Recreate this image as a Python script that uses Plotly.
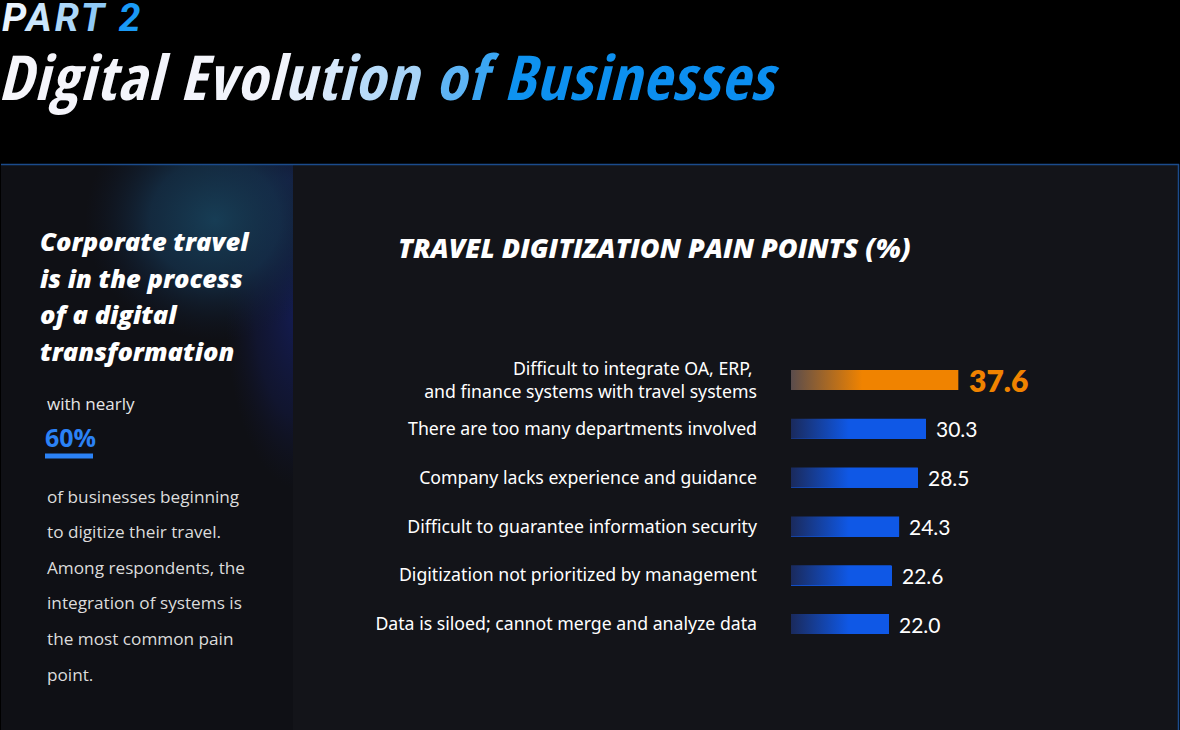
import base64
import plotly.graph_objects as go

# ---------------- data ----------------
categories = [
    "Difficult to integrate OA, ERP, <br>and finance systems with travel systems",
    "There are too many departments involved",
    "Company lacks experience and guidance",
    "Difficult to guarantee information security",
    "Digitization not prioritized by management",
    "Data is siloed; cannot merge and analyze data",
]
values = [37.6, 30.3, 28.5, 24.3, 22.6, 22.0]
value_labels = ["37.6", "30.3", "28.5", "24.3", "22.6", "22.0"]

W, H = 1180, 730
BLUE = "#0f58e6"
BLUE_DARK = "#1a2a5c"
ORANGE = "#f08300"
ORANGE_DARK = "#5a4c4c"
HEAD_FONT = "Open Sans Condensed, Roboto"


def py(p):
    return 1 - p / H


def px(p):
    return p / W


def hex2rgb(h):
    h = h.lstrip("#")
    return tuple(int(h[i:i + 2], 16) for i in (0, 2, 4))


def grad_text(text, stops, spacing=0):
    n = max(len(text) - 1, 1)
    out = []
    for i, ch in enumerate(text):
        t = i / n
        col = stops[-1][1]
        for k in range(len(stops) - 1):
            t0, c0 = stops[k]
            t1, c1 = stops[k + 1]
            if t0 <= t <= t1:
                f = 0 if t1 == t0 else (t - t0) / (t1 - t0)
                a, b = hex2rgb(c0), hex2rgb(c1)
                col = "#%02x%02x%02x" % tuple(int(a[j] + (b[j] - a[j]) * f) for j in range(3))
                break
        if ch == " ":
            out.append('<span style="letter-spacing:%.1fpx"> </span>' % spacing)
        else:
            out.append('<span style="color:%s;letter-spacing:%.1fpx">%s</span>' % (col, spacing, ch))
    return "".join(out)


# ---------------- background (svg) ----------------
svg = f"""<svg xmlns="http://www.w3.org/2000/svg" width="{W}" height="{H}" viewBox="0 0 {W} {H}">
<defs>
<radialGradient id="g1" cx="0.5" cy="0.5" r="0.5">
<stop offset="0" stop-color="#173d55" stop-opacity="1"/>
<stop offset="0.5" stop-color="#15324c" stop-opacity="0.75"/>
<stop offset="1" stop-color="#101a30" stop-opacity="0"/>
</radialGradient>
<radialGradient id="g2" cx="0.5" cy="0.5" r="0.5">
<stop offset="0" stop-color="#141d58" stop-opacity="0.95"/>
<stop offset="0.6" stop-color="#131a48" stop-opacity="0.5"/>
<stop offset="1" stop-color="#111530" stop-opacity="0"/>
</radialGradient>
<radialGradient id="g3" cx="0.5" cy="0.5" r="0.5">
<stop offset="0" stop-color="#152050" stop-opacity="0.8"/>
<stop offset="1" stop-color="#131a40" stop-opacity="0"/>
</radialGradient>
<clipPath id="c"><rect x="1" y="164" width="292" height="566"/></clipPath>
</defs>
<rect width="{W}" height="{H}" fill="#000"/>
<rect x="1" y="164" width="1178" height="566" fill="#131419"/>
<rect x="1" y="164" width="292" height="566" fill="#0f1015"/>
<g clip-path="url(#c)">
<ellipse cx="300" cy="310" rx="75" ry="180" fill="url(#g2)"/>
<ellipse cx="290" cy="180" rx="90" ry="75" fill="url(#g3)"/>
<ellipse cx="215" cy="220" rx="130" ry="120" fill="url(#g1)"/>
</g>
<line x1="1" y1="164.5" x2="1179" y2="164.5" stroke="#1b4b8c" stroke-width="1.5"/>
<line x1="1178.5" y1="164" x2="1178.5" y2="730" stroke="#1b4b8c" stroke-width="1.5"/>
</svg>"""
bg_src = "data:image/svg+xml;base64," + base64.b64encode(svg.encode()).decode()

# ---------------- figure ----------------
fig = go.Figure()
n = len(values)
ys = list(range(n))
bar_h = 0.41
fig.add_trace(go.Bar(
    x=values, y=ys, orientation="h", width=bar_h,
    marker=dict(color=[ORANGE] + [BLUE] * (n - 1), line=dict(width=0)),
    hoverinfo="skip", showlegend=False,
))
for i, v in enumerate(values):
    dark, full = (ORANGE_DARK, ORANGE) if i == 0 else (BLUE_DARK, BLUE)
    stop = 16.0 if i == 0 else 13.0
    fig.add_trace(go.Scatter(
        x=[0, v, v, 0, 0],
        y=[i - bar_h / 2, i - bar_h / 2, i + bar_h / 2, i + bar_h / 2, i - bar_h / 2],
        mode="lines", fill="toself", line=dict(width=0),
        fillgradient=dict(type="horizontal", start=0, stop=stop,
                          colorscale=[[0, dark], [1, full]]),
        hoverinfo="skip", showlegend=False,
    ))

annotations = []
for i, (v, lab) in enumerate(zip(values, value_labels)):
    if i == 0:
        f = dict(family="Lato", size=30, color=ORANGE, weight=800)
        xs = 9
    else:
        f = dict(family="Lato", size=21, color="#ffffff")
        xs = 8
    annotations.append(dict(x=v, y=i, xref="x", yref="y", text=lab, showarrow=False,
                            xanchor="left", yanchor="middle", xshift=xs, font=f))

# Header
annotations.append(dict(
    x=0, y=py(18), xref="paper", yref="paper", xanchor="left", yanchor="middle",
    text=grad_text("PART 2", [(0, "#eaf4ff"), (0.6, "#8fcaf7"), (1, "#1a9af5")], spacing=3),
    showarrow=False, font=dict(family="Roboto", size=39, weight=700, style="italic")))
annotations.append(dict(
    x=-0.003, y=py(76), xref="paper", yref="paper", xanchor="left", yanchor="middle",
    text=grad_text("Digital Evolution of Businesses",
                   [(0, "#f6f6fb"), (0.37, "#f2f4fb"), (0.45, "#cfe6fb"), (0.55, "#9fd0f7"),
                    (0.62, "#45aaf4"), (0.7, "#0e92f0"), (1, "#0b8ef0")], spacing=1.2),
    showarrow=False, font=dict(family=HEAD_FONT, size=62, weight=700, style="italic")))

# Chart title
annotations.append(dict(
    x=px(396), y=py(248), xref="paper", yref="paper", xanchor="left", yanchor="middle",
    text="TRAVEL DIGITIZATION PAIN POINTS (%)", showarrow=False,
    font=dict(family="Open Sans", size=27, weight=800, style="italic", color="#ffffff")))

# Left panel
for k, line in enumerate(["Corporate travel", "is in the process", "of a digital", "transformation"]):
    annotations.append(dict(
        x=px(38), y=py(241 + 36.7 * k), xref="paper", yref="paper", xanchor="left", yanchor="middle",
        text=line, showarrow=False,
        font=dict(family="Open Sans", size=25.5, weight=800, style="italic", color="#ffffff")))
annotations.append(dict(
    x=px(45), y=py(404), xref="paper", yref="paper", xanchor="left", yanchor="middle",
    text="with nearly", showarrow=False, font=dict(family="Open Sans", size=17, color="#e6e6e6")))
annotations.append(dict(
    x=px(43), y=py(437), xref="paper", yref="paper", xanchor="left", yanchor="middle",
    text="60%", showarrow=False, font=dict(family="Open Sans", size=25, weight=700, color="#2b82f6")))
body = ["of businesses beginning", "to digitize their travel.", "Among respondents, the",
        "integration of systems is", "the most common pain", "point."]
for k, line in enumerate(body):
    annotations.append(dict(
        x=px(45), y=py(496 + 35.6 * k), xref="paper", yref="paper", xanchor="left", yanchor="middle",
        text=line, showarrow=False, font=dict(family="Open Sans", size=17.2, color="#dcdcdc")))

shapes = [dict(type="line", xref="paper", yref="paper", x0=px(45), x1=px(93), y0=py(456), y1=py(456),
               line=dict(color="#2b82f6", width=5), layer="above")]

x_scale = 4.45  # px per unit
x0_px = 791
fig.update_layout(
    width=W, height=H, margin=dict(l=0, r=0, t=0, b=0),
    paper_bgcolor="#000000", plot_bgcolor="rgba(0,0,0,0)",
    images=[dict(source=bg_src, xref="paper", yref="paper", x=0, y=1, sizex=1, sizey=1,
                 xanchor="left", yanchor="top", sizing="stretch", layer="below")],
    xaxis=dict(domain=[px(x0_px), 1], range=[0, (W - x0_px) / x_scale], visible=False, fixedrange=True),
    yaxis=dict(domain=[py(380 + 48.8 * 5.5), py(380 - 48.8 * 0.5)], range=[n - 0.5, -0.5],
               tickmode="array", tickvals=ys, ticktext=categories, ticks="", showgrid=False,
               zeroline=False, showline=False, ticklabelstandoff=33,
               tickfont=dict(family="Noto Sans", size=17.7, color="#ffffff"), fixedrange=True),
    annotations=annotations, shapes=shapes, showlegend=False, bargap=0,
)
fig.write_html("out.html")
